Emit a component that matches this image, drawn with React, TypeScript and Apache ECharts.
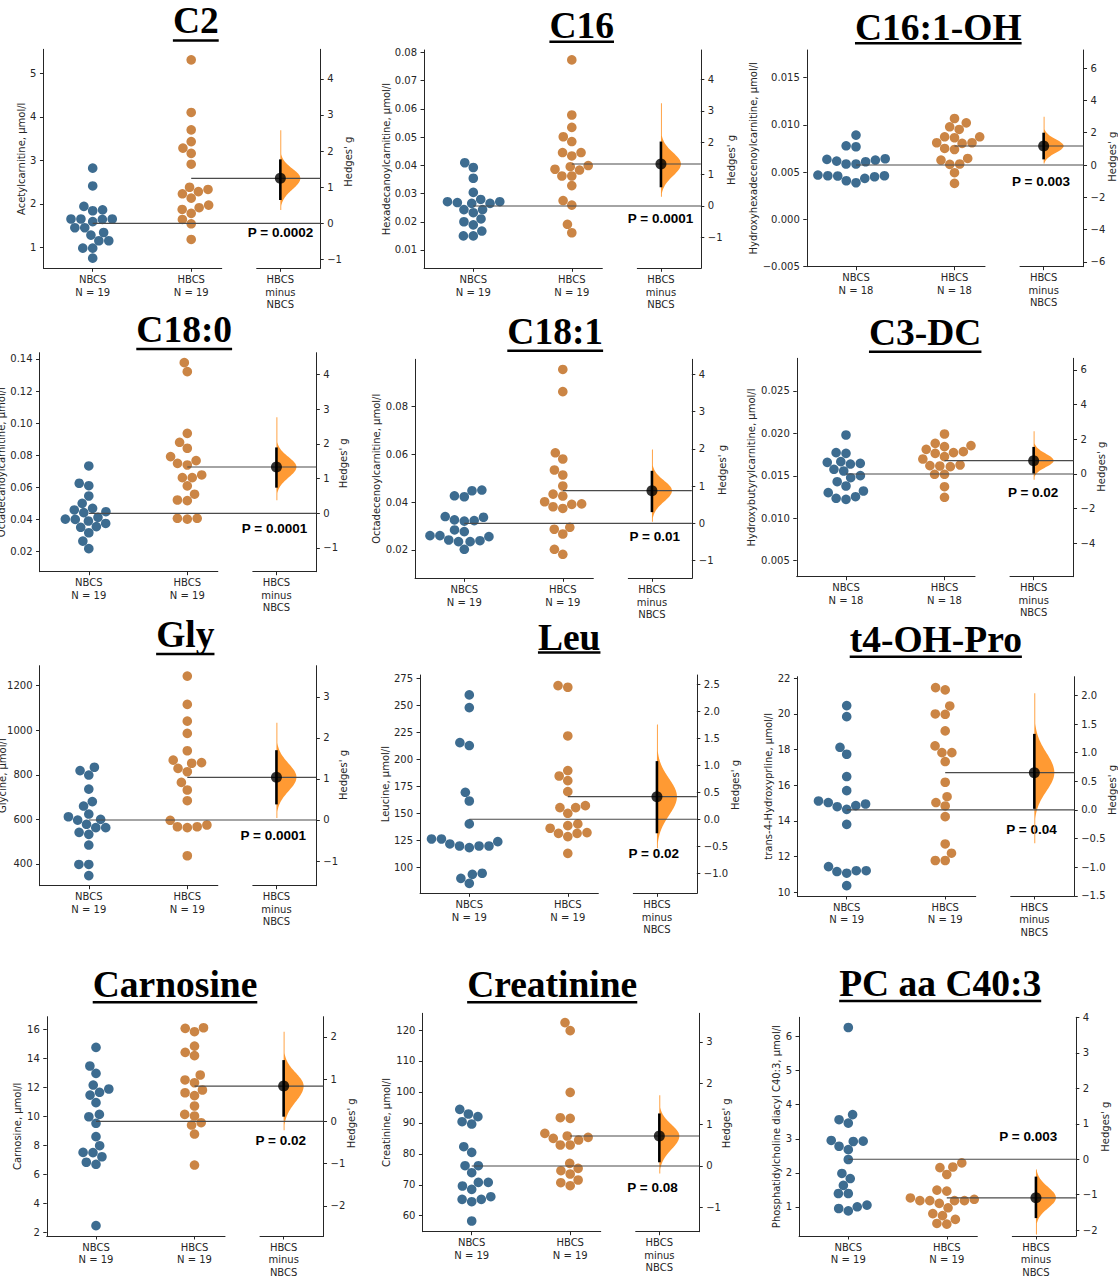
import React, { useEffect, useRef } from 'react';
import * as echarts from 'echarts';

// ---------------- data ----------------
const panelTitles = ['C2', 'C16', 'C16:1-OH', 'C18:0', 'C18:1', 'C3-DC', 'Gly', 'Leu', 't4-OH-Pro', 'Carnosine', 'Creatinine', 'PC aa C40:3'];
const yAxisTitles = [
  'Acetylcarnitine, µmol/l', 'Hexadecanoylcarnitine, µmol/l', 'Hydroxyhexadecenoylcarnitine, µmol/l',
  'Octadecanoylcarnitine, µmol/l', 'Octadecenoylcarnitine, µmol/l', 'Hydroxybutyrylcarnitine, µmol/l',
  'Glycine, µmol/l', 'Leucine, µmol/l', 'trans-4-Hydroxyprline, µmol/l',
  'Carnosine, µmol/l', 'Creatinine, µmol/l', 'Phosphatidylcholine diacyl C40:3, µmol/l',
];
const groupNames = ['NBCS', 'HBCS'];
const effectLabel = "Hedges' g";
const pValues = ['0.0002', '0.0001', '0.003', '0.0001', '0.01', '0.02', '0.0001', '0.02', '0.04', '0.02', '0.08', '0.003'];

const c2NBCS = [2.82, 2.41, 1.94, 1.84, 1.86, 1.65, 1.65, 1.65, 1.64, 1.59, 1.45, 1.45, 1.34, 1.28, 1.15, 1.15, 0.98, 0.98, 0.75];
const c2HBCS = [5.31, 4.10, 3.70, 3.43, 3.28, 3.16, 2.91, 2.38, 2.33, 2.28, 2.23, 2.13, 1.97, 1.91, 1.87, 1.78, 1.64, 1.54, 1.18];
const c16NBCS = [0.0409, 0.0392, 0.0354, 0.0304, 0.0279, 0.0271, 0.0271, 0.0268, 0.0265, 0.0265, 0.0243, 0.0243, 0.0232, 0.0210, 0.0200, 0.0189, 0.0167, 0.0150, 0.0150];
const c16HBCS = [0.0773, 0.0578, 0.0534, 0.0501, 0.0484, 0.0445, 0.0445, 0.0433, 0.0399, 0.0395, 0.0383, 0.0386, 0.0362, 0.0362, 0.0328, 0.0275, 0.0259, 0.0191, 0.0161];
const c161NBCS = [0.00891, 0.00778, 0.00768, 0.00634, 0.00627, 0.00641, 0.00616, 0.00609, 0.00585, 0.00585, 0.00461, 0.00458, 0.00468, 0.00461, 0.0045, 0.00433, 0.00408, 0.00387];
const c161HBCS = [0.01067, 0.01021, 0.00951, 0.00979, 0.00873, 0.00873, 0.00863, 0.0081, 0.0081, 0.00803, 0.00739, 0.0075, 0.00644, 0.00627, 0.00581, 0.00585, 0.00493, 0.0038];
const c180NBCS = [0.0734, 0.0626, 0.0611, 0.0547, 0.0501, 0.0470, 0.0460, 0.0449, 0.0443, 0.0414, 0.0401, 0.0403, 0.0391, 0.0376, 0.0356, 0.0352, 0.0318, 0.0266, 0.0219];
const c180HBCS = [0.1377, 0.1321, 0.0937, 0.0881, 0.0844, 0.0792, 0.0767, 0.0750, 0.0740, 0.0678, 0.0661, 0.0661, 0.0610, 0.0558, 0.0522, 0.0518, 0.0408, 0.0403, 0.0408];
const c181NBCS = [0.0451, 0.0448, 0.0427, 0.0423, 0.0337, 0.0340, 0.0323, 0.0321, 0.0326, 0.0284, 0.0277, 0.0260, 0.0260, 0.0256, 0.0242, 0.0235, 0.0239, 0.0235, 0.0203];
const c181HBCS = [0.0956, 0.0863, 0.0607, 0.0581, 0.0535, 0.0514, 0.0468, 0.0434, 0.0426, 0.0402, 0.0391, 0.0393, 0.0381, 0.0374, 0.0295, 0.0287, 0.0267, 0.0203, 0.0182];
const c3dcNBCS = [0.01981, 0.01773, 0.01765, 0.01667, 0.01659, 0.01647, 0.01639, 0.01557, 0.01577, 0.01502, 0.01478, 0.01431, 0.0138, 0.01321, 0.01302, 0.01254, 0.01223, 0.01235];
const c3dcHBCS = [0.01993, 0.01856, 0.01883, 0.01844, 0.01785, 0.01773, 0.01812, 0.01765, 0.01726, 0.01698, 0.01628, 0.0162, 0.01616, 0.01608, 0.01518, 0.01518, 0.01372, 0.01247];
const glyNBCS = [834, 819, 799, 736, 680, 660, 624, 612, 597, 600, 578, 563, 563, 542, 533, 485, 398, 398, 348];
const glyHBCS = [1243, 1116, 1041, 986, 908, 866, 855, 852, 829, 814, 766, 732, 684, 596, 575, 567, 567, 563, 437];
const leuNBCS = [259.6, 247.9, 215.5, 212.8, 169.6, 161.6, 140.4, 126.5, 126.5, 124, 121.9, 120, 120, 120, 118.5, 94.8, 93.8, 90.1, 85.5];
const leuHBCS = [268.2, 266.7, 221.7, 189.7, 184.7, 180.4, 170.2, 157.3, 155.5, 155.5, 150.2, 140.4, 138.8, 136.4, 132.4, 131.7, 131.7, 128.7, 113.2];
const hypNBCS = [20.47, 19.85, 18.13, 17.74, 16.49, 15.70, 14.95, 14.86, 14.65, 14.80, 15.03, 15.12, 13.81, 11.44, 11.16, 11.07, 11.21, 11.21, 10.37];
const hypHBCS = [21.48, 21.35, 20.45, 20.00, 19.98, 19.05, 18.21, 17.83, 17.83, 17.33, 16.17, 15.03, 15.36, 14.84, 14.24, 12.71, 12.19, 11.78, 11.78];
const carNBCS = [14.74, 13.46, 12.95, 12.15, 11.88, 11.65, 11.46, 10.94, 10.13, 9.97, 9.52, 8.60, 7.98, 7.52, 7.50, 7.22, 6.84, 6.70, 2.48];
const carHBCS = [16.05, 15.82, 16.09, 14.83, 14.40, 14.17, 12.84, 12.50, 12.31, 11.81, 11.62, 11.42, 10.71, 10.02, 10.13, 9.56, 9.40, 8.78, 6.65];
const creNBCS = [94.36, 92.86, 92.0, 90.38, 89.62, 82.30, 80.47, 76.16, 76.16, 73.9, 70.77, 70.77, 69.59, 68.51, 66.14, 65.28, 65.28, 64.52, 58.28];
const creHBCS = [122.4, 119.8, 99.86, 91.46, 91.67, 86.61, 85.75, 84.99, 84.45, 85.31, 82.84, 82.84, 76.91, 74.54, 75.30, 73.47, 71.53, 70.66, 69.7];
const pcNBCS = [6.27, 3.71, 3.56, 3.46, 2.95, 2.92, 2.93, 2.78, 2.68, 2.39, 1.98, 1.83, 1.63, 1.39, 1.39, 1.00, 1.05, 0.95, 0.88];
const pcHBCS = [2.29, 2.17, 2.15, 1.95, 1.49, 1.46, 1.26, 1.22, 1.18, 1.18, 1.18, 1.18, 1.10, 0.97, 0.80, 0.74, 0.63, 0.51, 0.49];

const groupData = [
  [c2NBCS, c2HBCS], [c16NBCS, c16HBCS], [c161NBCS, c161HBCS],
  [c180NBCS, c180HBCS], [c181NBCS, c181HBCS], [c3dcNBCS, c3dcHBCS],
  [glyNBCS, glyHBCS], [leuNBCS, leuHBCS], [hypNBCS, hypHBCS],
  [carNBCS, carHBCS], [creNBCS, creHBCS], [pcNBCS, pcHBCS],
];

// group means (reference lines) and effect sizes
const meanNBCS = [1.552, 0.02558, 0.005746, 0.0439, 0.03118, 0.015218, 597.4, 144.7, 14.616, 9.656, 76.06, 2.398];
const meanHBCS = [2.586, 0.04045, 0.007757, 0.07274, 0.04483, 0.016786, 789, 165.6, 16.708, 12.08, 85.75, 1.264];
const hedgesG = [1.246, 1.323, 1.177, 1.336, 0.876, 0.767, 1.04, 0.42, 0.652, 0.835, 0.725, -1.088];
const ciLow = [0.645, 0.59, 0.35, 0.74, 0.30, 0.03, 0.38, -0.26, 0.02, 0.11, 0.09, -1.66];
const ciHigh = [1.77, 2.03, 2.0, 1.90, 1.41, 1.56, 1.70, 1.08, 1.33, 1.45, 1.27, -0.49];
const bootLow = [0.37, 0.29, 0.1, 0.38, 0.04, -0.33, 0.05, -0.54, -0.58, -0.21, -0.18, -2.12];
const bootHigh = [2.58, 3.24, 2.99, 2.77, 1.98, 2.46, 2.37, 1.76, 2.04, 2.12, 1.71, -0.29];

// axes
const yMin = [0.517, 0.00352, -0.00502, 0.00755, 0.00815, 0.003114, 302.6, 76.3, 9.79, 1.77, 54.83, 0.1415];
const yMax = [5.552, 0.08081, 0.01792, 0.1439, 0.09985, 0.02885, 1289.7, 278, 22.09, 16.85, 125.4, 6.57];
const leftTicks = [
  [1, 2, 3, 4, 5],
  [0.01, 0.02, 0.03, 0.04, 0.05, 0.06, 0.07, 0.08],
  [-0.005, 0, 0.005, 0.01, 0.015],
  [0.02, 0.04, 0.06, 0.08, 0.1, 0.12, 0.14],
  [0.02, 0.04, 0.06, 0.08],
  [0.005, 0.01, 0.015, 0.02, 0.025],
  [400, 600, 800, 1000, 1200],
  [100, 125, 150, 175, 200, 225, 250, 275],
  [10, 12, 14, 16, 18, 20, 22],
  [2, 4, 6, 8, 10, 12, 14, 16],
  [60, 70, 80, 90, 100, 110, 120],
  [1, 2, 3, 4, 5, 6],
];
const leftDecimals = [0, 2, 3, 2, 2, 3, 0, 0, 0, 0, 0, 0];
const rightTicks = [
  [-1, 0, 1, 2, 3, 4],
  [-1, 0, 1, 2, 3, 4],
  [-6, -4, -2, 0, 2, 4, 6],
  [-1, 0, 1, 2, 3, 4],
  [-1, 0, 1, 2, 3, 4],
  [-4, -2, 0, 2, 4, 6],
  [-1, 0, 1, 2, 3],
  [-1, -0.5, 0, 0.5, 1, 1.5, 2, 2.5],
  [-1.5, -1, -0.5, 0, 0.5, 1, 1.5, 2],
  [-2, -1, 0, 1, 2],
  [-1, 0, 1, 2, 3],
  [-2, -1, 0, 1, 2, 3, 4],
];
const rightDecimals = [0, 0, 0, 0, 0, 0, 0, 1, 1, 0, 0, 0];

// ---------------- layout (pixels) ----------------
const panelNbcsX = [92.7, 473.3, 856, 88.8, 464.3, 846, 88.8, 469.3, 846.7, 96, 471.7, 848.3];
const panelTop = [49.3, 50, 50, 352.7, 359.3, 358.3, 665.7, 675, 676.7, 1016.7, 1013.3, 1017.3];
const panelBottom = [268.3, 268.3, 266.7, 571.7, 578.3, 576.7, 885.7, 893.3, 896, 1236, 1231.7, 1236];
const titleX = [195.8, 581.7, 938.3, 184.2, 555.2, 925.2, 185.3, 569.2, 935.8, 175, 552.2, 940.2];
const titleY = [20.8, 25, 27.2, 329.5, 331.7, 332.8, 634.5, 637, 639.7, 984.2, 984.2, 983];
const underlineY = [40.5, 41.7, 43.3, 349, 350.7, 351.7, 654, 652.5, 656.7, 1002.3, 1002.3, 1001];
const yTitleX = [21.7, 386, 753.3, 1.5, 376, 751.7, 2, 385, 768.3, 17.3, 386.7, 776];
const gTitleX = [348.3, 731, 1112, 343.3, 722.7, 1101.7, 343.3, 735, 1112.7, 351.7, 726.7, 1105];
const gTitleY = [161.7, 160, 156.7, 463.3, 470, 466.7, 775, 785, 790, 1123.3, 1123.3, 1126.7];
const pTextX = [313.3, 693.3, 1070, 307.3, 680, 1058.3, 306, 679, 1056.7, 306, 677.7, 1057.3];
const pTextY = [232.3, 218.3, 181, 528.3, 536.7, 492.7, 835, 853.3, 829, 1140, 1187.7, 1136.7];

const U = 98.5; // px per x unit
const XA_MIN = -0.5, XA_MAX = 1.31, XB_MIN = 1.665, XB_MAX = 2.31, XC = 1.905;
const R_SWARM = 4.72;
const DOT_SIZE = 9.6;
const PEAK_W = 20;
const AX = '#262626';
const TXT = '#262626';
const BLUE = '#3d6c90';
const ORANGE = '#cb8545';
const VIOLIN = '#ff9a33';
const FONT = 'DejaVu Sans';

function fmt(v: number, d: number) {
  const s = v.toFixed(d);
  return s.charAt(0) === '-' ? '\u2212' + s.slice(1) : s;
}

// seaborn-like beeswarm, in pixels
function swarmOffsets(values: number[], lo: number, hi: number, hPx: number, r: number): number[] {
  const py = values.map((v) => ((v - lo) / (hi - lo)) * hPx);
  const order = py.map((_, i) => i).sort((a, b) => py[a] - py[b] || a - b);
  const placed: { x: number; y: number }[] = [];
  const res = new Array(values.length).fill(0);
  for (const idx of order) {
    const y = py[idx];
    const neigh: { x: number; y: number }[] = [];
    for (let j = placed.length - 1; j >= 0; j--) {
      if (y - placed[j].y < 2 * r) neigh.push(placed[j]);
      else break;
    }
    const cands: number[] = [0];
    let leftFirst = true;
    for (const nb of neigh) {
      const dy = y - nb.y;
      const dx = Math.sqrt(Math.max(4 * r * r - dy * dy, 0)) * 1.05;
      if (leftFirst) cands.push(nb.x - dx, nb.x + dx);
      else cands.push(nb.x + dx, nb.x - dx);
      leftFirst = !leftFirst;
    }
    const sorted = cands
      .map((c, k) => ({ c, k }))
      .sort((a, b) => Math.abs(a.c) - Math.abs(b.c) || a.k - b.k)
      .map((o) => o.c);
    let chosen = 0;
    if (neigh.length) {
      for (const c of sorted) {
        if (neigh.every((nb) => (nb.x - c) ** 2 + (nb.y - y) ** 2 >= 4 * r * r - 1e-6)) {
          chosen = c;
          break;
        }
      }
    }
    placed.push({ x: chosen, y });
    res[idx] = chosen;
  }
  return res;
}

let measureCtx: CanvasRenderingContext2D | null = null;
function textWidth(text: string, font: string) {
  if (!measureCtx) measureCtx = document.createElement('canvas').getContext('2d');
  if (!measureCtx) return text.length * 18;
  measureCtx.font = font;
  return measureCtx.measureText(text).width;
}

function buildOption() {
  const grid: any[] = [];
  const xAxis: any[] = [];
  const yAxis: any[] = [];
  const series: any[] = [];
  const elements: any[] = [];
  const labelStyle = { color: TXT, fontSize: 10, fontFamily: FONT };

  for (let i = 0; i < panelTitles.length; i++) {
    const nx = panelNbcsX[i];
    const top = panelTop[i];
    const h = panelBottom[i] - top;
    const a = 2 * i;
    const b = 2 * i + 1;
    const groups = groupData[i];
    const k = hedgesG[i] / (meanHBCS[i] - meanNBCS[i]);
    const g1 = (yMin[i] - meanNBCS[i]) * k;
    const g2 = (yMax[i] - meanNBCS[i]) * k;

    grid.push({ left: nx + XA_MIN * U, top, width: (XA_MAX - XA_MIN) * U, height: h, containLabel: false, outerBoundsMode: 'none' });
    grid.push({ left: nx + XB_MIN * U, top, width: (XB_MAX - XB_MIN) * U, height: h, containLabel: false, outerBoundsMode: 'none' });

    xAxis.push({
      type: 'value', gridIndex: a, min: XA_MIN, max: XA_MAX,
      axisLine: { show: true, onZero: false, lineStyle: { color: AX, width: 1 } },
      axisTick: { show: true, length: 3.5, customValues: [0, 1], lineStyle: { color: AX, width: 1 } },
      axisLabel: {
        show: true, customValues: [0, 1], margin: 5, lineHeight: 12.5, ...labelStyle,
        formatter: (v: number) => {
          const gi = Math.round(v);
          return `${groupNames[gi]}\nN = ${groups[gi].length}`;
        },
      },
      splitLine: { show: false },
    });
    xAxis.push({
      type: 'value', gridIndex: b, min: XB_MIN, max: XB_MAX,
      axisLine: { show: true, onZero: false, lineStyle: { color: AX, width: 1 } },
      axisTick: { show: true, length: 3.5, customValues: [XC], lineStyle: { color: AX, width: 1 } },
      axisLabel: {
        show: true, customValues: [XC], margin: 5, lineHeight: 12.5, ...labelStyle,
        formatter: () => `${groupNames[1]}\nminus\n${groupNames[0]}`,
      },
      splitLine: { show: false },
    });
    const ld = leftDecimals[i];
    const rd = rightDecimals[i];
    yAxis.push({
      type: 'value', gridIndex: a, position: 'left', min: yMin[i], max: yMax[i],
      axisLine: { show: true, onZero: false, lineStyle: { color: AX, width: 1 } },
      axisTick: { show: true, length: 3.5, customValues: leftTicks[i], lineStyle: { color: AX, width: 1 } },
      axisLabel: { show: true, customValues: leftTicks[i], margin: 7, ...labelStyle, formatter: (v: number) => fmt(v, ld) },
      splitLine: { show: false },
    });
    yAxis.push({
      type: 'value', gridIndex: b, position: 'right', min: Math.min(g1, g2), max: Math.max(g1, g2),
      axisLine: { show: true, onZero: false, lineStyle: { color: AX, width: 1 } },
      axisTick: { show: true, length: 3.5, customValues: rightTicks[i], lineStyle: { color: AX, width: 1 } },
      axisLabel: { show: true, customValues: rightTicks[i], margin: 7, ...labelStyle, formatter: (v: number) => fmt(v, rd) },
      splitLine: { show: false },
    });

    // swarms
    groups.forEach((vals, gi) => {
      const offs = swarmOffsets(vals, yMin[i], yMax[i], h, R_SWARM);
      series.push({
        type: 'scatter', xAxisIndex: a, yAxisIndex: a, z: 2,
        symbol: 'circle', symbolSize: DOT_SIZE,
        itemStyle: { color: gi === 0 ? BLUE : ORANGE, opacity: 1 },
        data: vals.map((v, j) => [gi + offs[j] / U, v]),
        silent: true,
      });
    });

    // mean reference lines, from each group to the contrast axis
    [meanNBCS[i], meanHBCS[i]].forEach((m, gi) => {
      series.push({
        type: 'custom', xAxisIndex: a, yAxisIndex: a, z: 3, clip: false, silent: true,
        data: [[gi, m]],
        renderItem: (_p: any, api: any) => {
          const p = api.coord([api.value(0), api.value(1)]);
          const x2 = p[0] + (XB_MAX - gi) * U;
          return {
            type: 'line',
            shape: { x1: p[0], y1: p[1], x2, y2: p[1] },
            style: { stroke: '#4a4a4a', lineWidth: 1.2 },
          };
        },
      });
    });

    // bootstrap distribution (half violin)
    const mu = hedgesG[i];
    const sdUp = (ciHigh[i] - mu) / 1.96;
    const sdDown = (mu - ciLow[i]) / 1.96;
    const lo = bootLow[i];
    const hi = bootHigh[i];
    series.push({
      type: 'custom', xAxisIndex: b, yAxisIndex: b, z: 2, silent: true,
      data: [[XC, mu]],
      renderItem: (_params: any, api: any) => {
        const pts: number[][] = [];
        const N = 90;
        for (let s = 0; s <= N; s++) {
          const g = lo + ((hi - lo) * s) / N;
          const sd = g < mu ? sdDown : sdUp;
          const w = Math.max(PEAK_W * Math.exp(-0.5 * ((g - mu) / sd) ** 2), 0.9);
          const p = api.coord([XC, g]);
          pts.push([p[0] + w, p[1]]);
        }
        pts.push(api.coord([XC, hi]));
        pts.push(api.coord([XC, lo]));
        return { type: 'polygon', shape: { points: pts }, style: { fill: VIOLIN } };
      },
    });
    // CI bar
    series.push({
      type: 'line', xAxisIndex: b, yAxisIndex: b, z: 4, symbol: 'none', silent: true, clip: false,
      lineStyle: { color: '#000', width: 2.6 },
      data: [[XC, ciLow[i]], [XC, ciHigh[i]]],
    });
    // effect size point
    series.push({
      type: 'scatter', xAxisIndex: b, yAxisIndex: b, z: 5, symbolSize: 11, silent: true,
      itemStyle: { color: '#000' },
      data: [[XC, mu]],
    });

    // texts
    const tFont = "bold 37.5px 'Liberation Serif'";
    const tw = textWidth(panelTitles[i], tFont);
    elements.push({
      type: 'text', x: titleX[i], y: titleY[i], silent: true,
      style: { text: panelTitles[i], fontSize: 37.5, fontWeight: 'bold', fontFamily: 'Liberation Serif', fill: '#000', align: 'center', verticalAlign: 'middle' },
    });
    elements.push({
      type: 'rect', silent: true,
      shape: { x: titleX[i] - tw / 2, y: underlineY[i] - 1.25, width: tw, height: 2.5 },
      style: { fill: '#000' },
    });
    elements.push({
      type: 'text', x: yTitleX[i], y: (panelTop[i] + panelBottom[i]) / 2, rotation: Math.PI / 2, silent: true,
      style: { text: yAxisTitles[i], fontSize: 10, fontFamily: FONT, fill: TXT, align: 'center', verticalAlign: 'middle' },
    });
    elements.push({
      type: 'text', x: gTitleX[i], y: gTitleY[i], rotation: Math.PI / 2, silent: true,
      style: { text: effectLabel, fontSize: 10, fontFamily: FONT, fill: TXT, align: 'center', verticalAlign: 'middle' },
    });
    elements.push({
      type: 'text', x: pTextX[i], y: pTextY[i], silent: true,
      style: { text: `P = ${pValues[i]}`, fontSize: 13.5, fontWeight: 'bold', fontFamily: 'Liberation Sans', fill: '#000', align: 'right', verticalAlign: 'middle' },
    });
  }

  return {
    animation: false,
    backgroundColor: '#ffffff',
    textStyle: { fontFamily: FONT },
    grid,
    xAxis,
    yAxis,
    series,
    graphic: { elements },
  };
}

export default function App() {
  const ref = useRef<HTMLDivElement>(null);
  useEffect(() => {
    if (!ref.current) return;
    const chart = echarts.init(ref.current, null, { renderer: 'svg' });
    chart.setOption(buildOption() as any);
    return () => chart.dispose();
  }, []);
  return (
    <div
      ref={ref}
      style={{ position: 'absolute', left: 0, top: 0, width: 1118, height: 1276, background: '#fff' }}
    />
  );
}
